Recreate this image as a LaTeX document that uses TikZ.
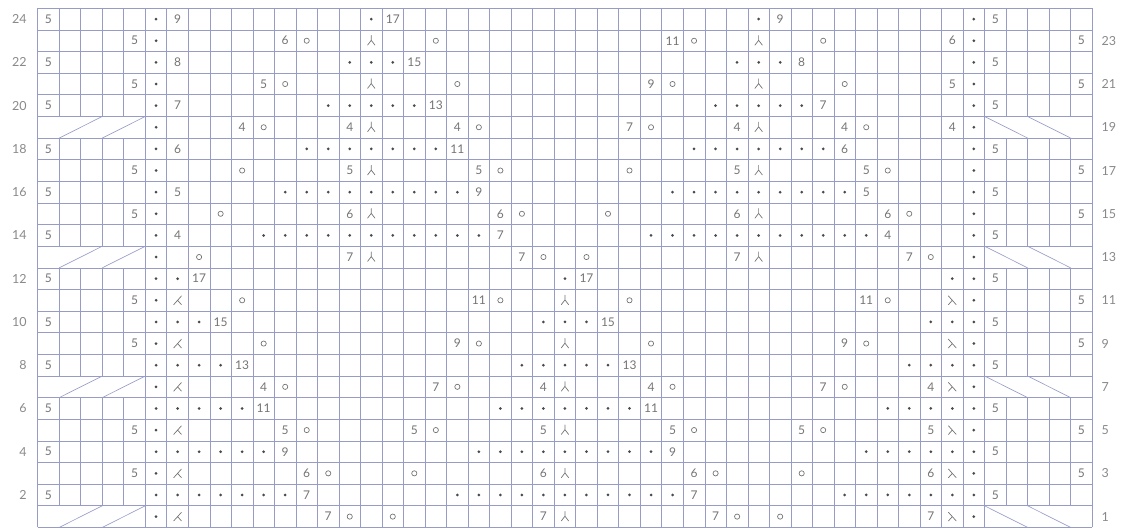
\documentclass[tikz,border=0pt]{standalone}
\usepackage{fontspec}
\setmainfont{Lato}
\definecolor{gridBlue}{HTML}{979CC6}
\definecolor{chartGrey}{HTML}{747474}
\definecolor{dotGrey}{HTML}{4A4A4A}

\begin{document}
\begin{tikzpicture}[x=21.52pt, y=21.63pt,
   num/.style={inner sep=0pt, text=chartGrey,
               font=\fontsize{12}{13}\selectfont},
   rowlbl/.style={inner sep=0pt, text=chartGrey!85,
                  font=\fontsize{12.5}{13}\selectfont},
   gridline/.style={draw=gridBlue, line width=0.65pt},
   sym/.style={draw=chartGrey, line width=0.7pt, line cap=round,
               line join=round}]

\useasboundingbox (-1.752,-0.023) rectangle (50.525,24.384);

% grid
\foreach \y in {0,...,24}
  \draw[gridline] (0,\y) -- (49,\y);
\foreach \x in {0,49}
  \draw[gridline] (\x,0) -- (\x,24);
\foreach \x in {5,...,44}
  \draw[gridline] (\x,0) -- (\x,24);
\foreach \x in {1,2,3,4,45,46,47,48}
  \foreach \y in {1,7,13,19}
    \draw[gridline] (\x,\y) -- (\x,\y+5);
\foreach \y in {0,6,12,18}{
  \draw[gridline] (1,\y) -- (3,\y+1) (3,\y) -- (5,\y+1);
  \draw[gridline] (44,\y+1) -- (46,\y) (46,\y+1) -- (48,\y);
}

% purl dots
\foreach \r in {1,...,24}
  \fill[dotGrey] (5.5,\r-.5) circle[radius=1.5pt] (43.5,\r-.5) circle[radius=1.5pt];
\foreach \r in {14,16,...,24}{
  \pgfmathtruncatemacro\k{(24-\r)/2}
  \foreach \c in {0,...,\k}
    \fill[dotGrey] (15.5-\c,\r-.5) circle[radius=1.5pt]
                   (15.5+\c,\r-.5) circle[radius=1.5pt]
                   (33.5-\c,\r-.5) circle[radius=1.5pt]
                   (33.5+\c,\r-.5) circle[radius=1.5pt];
}
\foreach \r in {2,4,...,12}{
  \pgfmathtruncatemacro\k{(12-\r)/2}
  \foreach \c in {0,...,\k}
    \fill[dotGrey] (6.5+\c,\r-.5) circle[radius=1.5pt]
                   (24.5-\c,\r-.5) circle[radius=1.5pt]
                   (24.5+\c,\r-.5) circle[radius=1.5pt]
                   (42.5-\c,\r-.5) circle[radius=1.5pt];
}

% yarn overs
\foreach \r in {13,15,...,23}{
  \pgfmathtruncatemacro\k{(23-\r)/2+3}
  \draw[sym] (15.5-\k,\r-.5) circle[radius=2.6pt] (15.5+\k,\r-.5) circle[radius=2.6pt]
             (33.5-\k,\r-.5) circle[radius=2.6pt] (33.5+\k,\r-.5) circle[radius=2.6pt];
}
\foreach \r in {1,3,...,11}{
  \pgfmathtruncatemacro\k{(11-\r)/2+3}
  \draw[sym] (6.5+\k,\r-.5) circle[radius=2.6pt] (24.5-\k,\r-.5) circle[radius=2.6pt]
             (24.5+\k,\r-.5) circle[radius=2.6pt] (42.5-\k,\r-.5) circle[radius=2.6pt];
}

% decreases
\foreach \r in {13,15,...,23}
  \foreach \c in {16,34}
    \draw[sym] (\c-.5,\r-.26) -- (\c-.5,\r-.48) -- ++(-.17,-.22)
               (\c-.5,\r-.48) -- ++(.17,-.22);
\foreach \r in {1,3,...,11}{
  \draw[sym] (24.5,\r-.26) -- (24.5,\r-.48) -- ++(-.17,-.22)
             (24.5,\r-.48) -- ++(.17,-.22);
  \draw[sym] (6.68,\r-.3) -- (6.32,\r-.7) (6.5,\r-.5) -- (6.68,\r-.7);
  \draw[sym] (42.32,\r-.3) -- (42.68,\r-.7) (42.5,\r-.5) -- (42.32,\r-.7);
}

% stitch counts
\foreach \r in {2,4,...,24}{
  \node[num] (n1-\r) at (.5,\r-.5) {5};
  \node[num] (n45-\r) at (44.5,\r-.5) {5};
}
\foreach \r in {3,5,9,11,15,17,21,23}{
  \node[num] (n5-\r) at (4.5,\r-.5) {5};
  \node[num] (n49-\r) at (48.5,\r-.5) {5};
}
\foreach \c/\r/\t in {7/24/9, 17/24/17, 35/24/9,
                      7/22/8, 18/22/15, 36/22/8,
                      7/20/7, 19/20/13, 37/20/7,
                      7/18/6, 20/18/11, 38/18/6,
                      7/16/5, 21/16/9, 39/16/5,
                      7/14/4, 22/14/7, 40/14/4,
                      8/12/17, 26/12/17, 9/10/15, 27/10/15,
                      10/8/13, 28/8/13, 11/6/11, 29/6/11,
                      12/4/9, 30/4/9, 13/2/7, 31/2/7,
                      12/23/6, 30/23/11, 43/23/6,
                      11/21/5, 29/21/9, 43/21/5,
                      10/19/4, 15/19/4, 20/19/4, 28/19/7, 33/19/4, 38/19/4, 43/19/4,
                      15/17/5, 21/17/5, 33/17/5, 39/17/5,
                      15/15/6, 22/15/6, 33/15/6, 40/15/6,
                      15/13/7, 23/13/7, 33/13/7, 41/13/7,
                      21/11/11, 39/11/11, 20/9/9, 38/9/9,
                      11/7/4, 19/7/7, 24/7/4, 29/7/4, 37/7/7, 42/7/4,
                      12/5/5, 18/5/5, 24/5/5, 30/5/5, 36/5/5, 42/5/5,
                      13/3/6, 24/3/6, 31/3/6, 42/3/6,
                      14/1/7, 24/1/7, 32/1/7, 42/1/7}
  \node[num] (n\c-\r) at (\c-.5,\r-.5) {\t};

% row numbers
\foreach \r in {2,4,...,24}
  \node[rowlbl, anchor=east] (l\r) at (-.5,\r-.5) {\r};
\foreach \r in {1,3,...,23}
  \node[rowlbl, anchor=west] (l\r) at (49.43,\r-.5) {\r};
\end{tikzpicture}
\end{document}
